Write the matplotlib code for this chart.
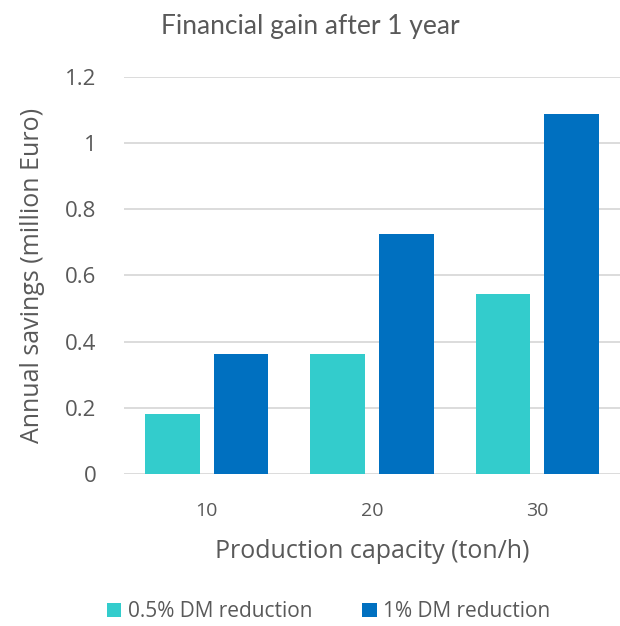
import numpy as np
import matplotlib.pyplot as plt

plt.rcParams['font.family'] = ['Open Sans', 'DejaVu Sans']

categories = ['10', '20', '30']
low = [0.181, 0.3625, 0.544]
high = [0.3625, 0.725, 1.0875]
series_names = ['0.5% DM reduction', '1% DM reduction']
text_c = '#595959'

x = np.arange(len(categories))
width = 0.33
off = 0.208

fig = plt.figure(figsize=(6.2, 6.26), dpi=100)
ax = fig.add_axes([0.2, 0.243, 0.8, 0.634])
b1 = ax.bar(x - off, low, width, color='#33CCCC', label=series_names[0], zorder=3)
b2 = ax.bar(x + off, high, width, color='#0070C0', label=series_names[1], zorder=3)

ax.set_xlim(-0.5, 2.5)
ax.set_ylim(0, 1.2)
ax.set_yticks([0, 0.2, 0.4, 0.6, 0.8, 1.0, 1.2])
ax.set_yticklabels(['0', '0.2', '0.4', '0.6', '0.8', '1', '1.2'])
ax.set_xticks(x)
ax.set_xticklabels(categories)
ax.yaxis.grid(True, color='#D9D9D9', linewidth=1.3, zorder=0)
for s in ax.spines.values():
    s.set_visible(False)
ax.tick_params(length=0, colors=text_c)
ax.tick_params(axis='y', labelsize=16, pad=20)
ax.tick_params(axis='x', labelsize=14, pad=20)

ax.set_ylabel('Annual savings (million Euro)', fontsize=18, color=text_c, labelpad=14)
ax.set_xlabel('Production capacity (ton/h)', fontsize=18, color=text_c, labelpad=14)
fig.text(0.5, 0.958, 'Financial gain after 1 year', ha='center', va='center',
         fontsize=19, color=text_c, family='Lato')

fig.legend(handles=[b1, b2], loc='lower center', bbox_to_anchor=(0.53, -0.024),
           ncol=2, frameon=False, fontsize=15, labelcolor=text_c,
           handlelength=0.7, handleheight=0.7, handletextpad=0.3, columnspacing=2.4)

fig.savefig('out.png', dpi=100)
